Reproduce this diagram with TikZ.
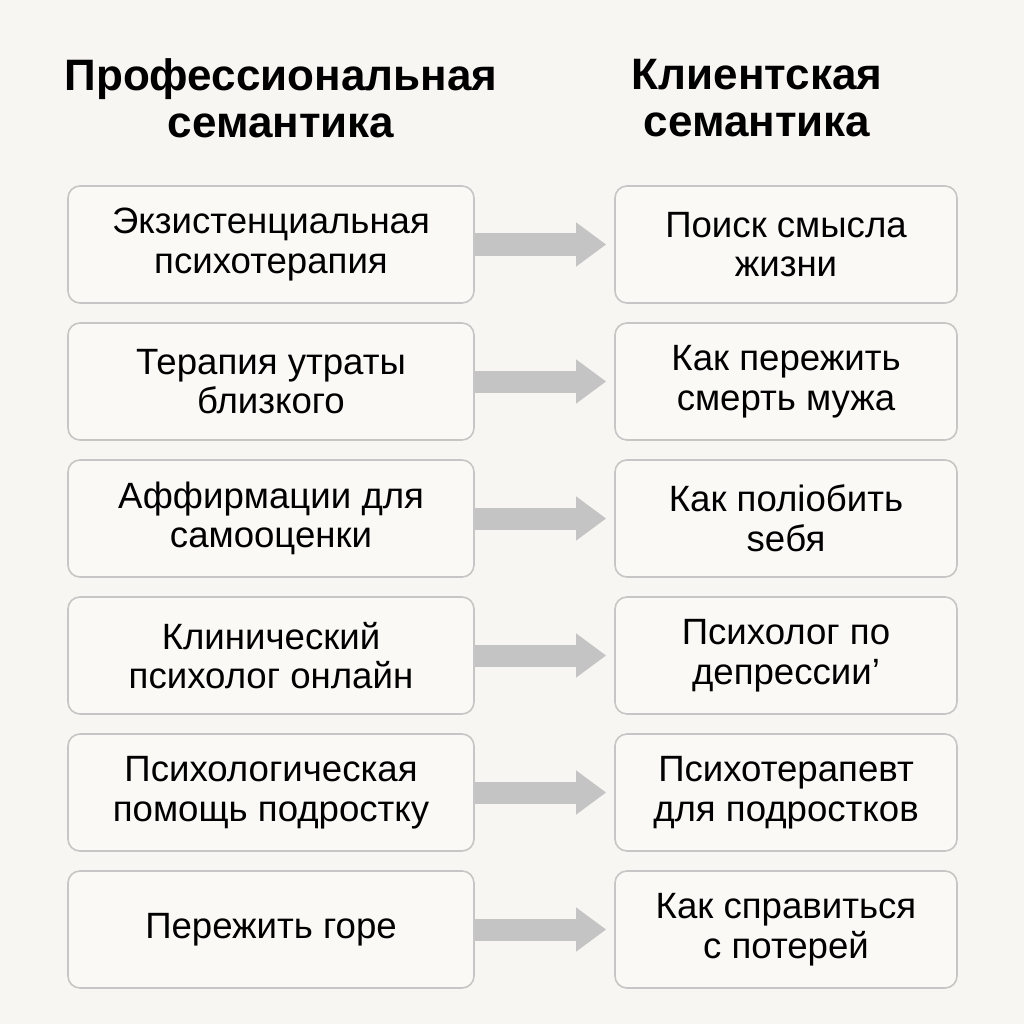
\documentclass[tikz,border=0pt]{standalone}
\usepackage{fontspec}
\setmainfont{Liberation Sans}
\usetikzlibrary{arrows.meta}
\definecolor{paper}{HTML}{F8F6F2}
\definecolor{boxfill}{HTML}{FAF9F6}
\definecolor{boxline}{HTML}{C6C6C6}
\definecolor{flowgray}{HTML}{C4C4C4}
\begin{document}
\begin{tikzpicture}[x=1pt,y=-1pt,
heading/.style={font=\fontsize{44}{47}\selectfont\bfseries,align=center,inner sep=0pt},
lbox/.style={draw=boxline,line width=1.6pt,fill=boxfill,rounded corners=12pt,minimum width=406pt,minimum height=117pt,align=center,inner sep=0pt,font=\fontsize{36.6}{39.5}\selectfont},
rbox/.style={lbox,minimum width=342pt},
flow/.style={-{Triangle[length=30pt,width=42pt]},line width=22pt,draw=flowgray,shorten >=8pt} ]

\fill[paper] (0,0) rectangle (1024,1024);
\useasboundingbox (0,0) rectangle (1024,1024);

\node[heading](hl) at (281,98.5) {Профессиональная\\семантика};

\node[heading](hr) at (757,98.5) {Клиентская\\семантика};

\node[lbox](l1) at (271,244.5) {Экзистенциальная\\психотерапия};

\node[rbox](r1) at (786,244.5) {Поиск смысла\\жизни};

\node[lbox](l2) at (271,381.5) {Терапия утраты\\близкого};

\node[rbox](r2) at (786,381.5) {Как пережить\\смерть мужа};

\node[lbox](l3) at (271,518.5) {Аффирмации для\\самооценки};

\node[rbox](r3) at (786,518.5) {Как поліобить\\seбя};

\node[lbox](l4) at (271,655.5) {Клинический\\психолог онлайн};

\node[rbox](r4) at (786,655.5) {Психолог по\\депрессии’};

\node[lbox](l5) at (271,792.5) {Психологическая\\помощь подростку};

\node[rbox](r5) at (786,792.5) {Психотерапевт\\для подростков};

\node[lbox](l6) at (271,929.5) {Пережить горе};

\node[rbox](r6) at (786,929.5) {Как справиться\\с потерей};

\draw[flow] (l1) -- (r1);

\draw[flow] (l2) -- (r2);

\draw[flow] (l3) -- (r3);

\draw[flow] (l4) -- (r4);

\draw[flow] (l5) -- (r5);

\draw[flow] (l6) -- (r6);
\end{tikzpicture}
\end{document}
